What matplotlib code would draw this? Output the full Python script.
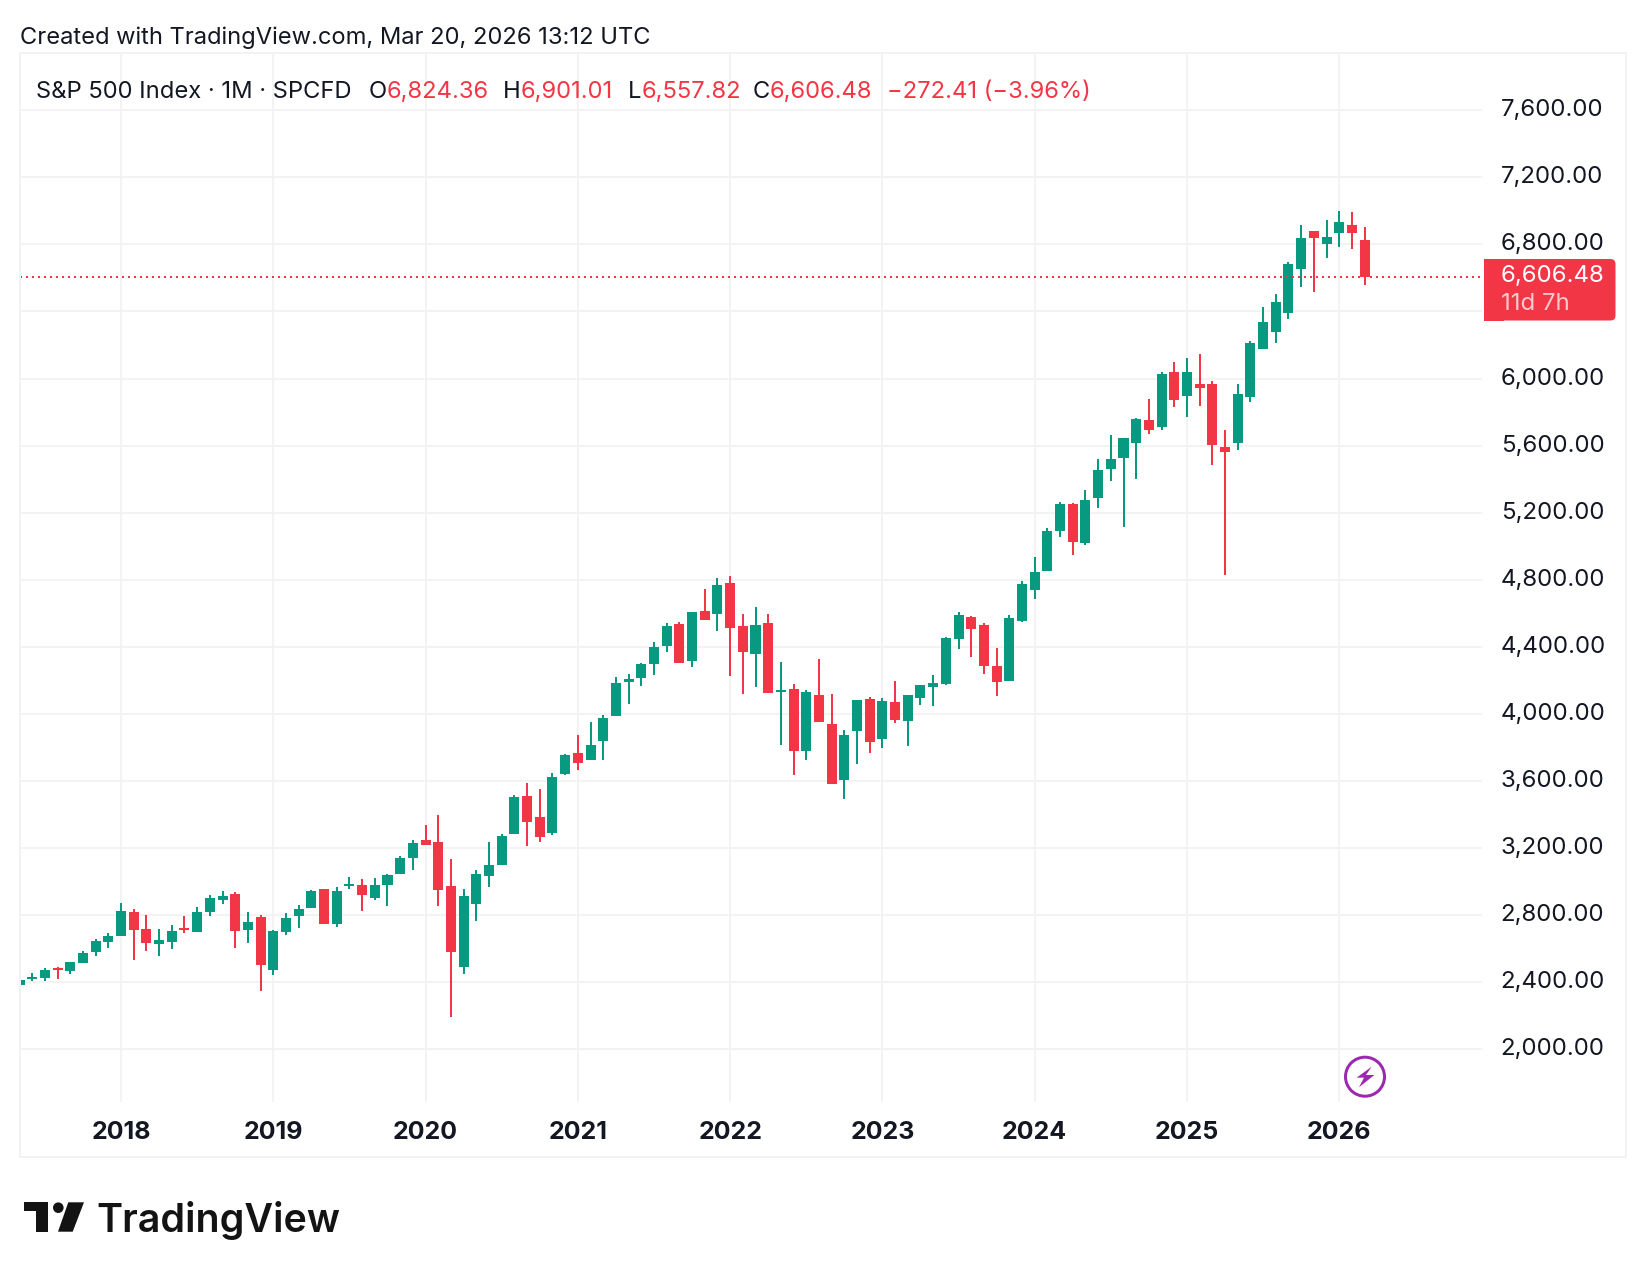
import numpy as np
import matplotlib
matplotlib.use("Agg")
import matplotlib.pyplot as plt
from matplotlib.patches import Rectangle, Polygon, Circle, FancyBboxPatch
from matplotlib.transforms import Affine2D, ScaledTranslation

# monthly bars, May 2017 .. Mar 2026
opens = [2382,2418,2424,2484,2466,2513,2579,2639,
 2675,2818,2716,2627,2639,2722,2698,2818,2890,2925,2710,2788,
 2472,2698,2794,2842,2955,2746,2973,2979,2901,2979,3045,3140,
 3248,3236,2973,2490,2866,3033,3099,3284,3510,3385,3288,3640,
 3765,3723,3837,3986,4189,4213,4296,4404,4535,4314,4613,4595,
 4780,4523,4356,4541,4129,4147,3777,4111,3938,3604,3896,4088,
 3849,4070,3956,4094,4159,4177,4446,4577,4529,4285,4195,4553,
 4738,4854,5092,5253,5021,5289,5462,5528,5617,5754,5712,6040,
 5897,5969,5969,5593,5617,5891,6177,6279,6392,6654,6881,6803,
 6869,6917,6824.36]
highs = [2415,2454,2484,2490,2519,2585,2657,2693,
 2872,2836,2800,2716,2740,2794,2848,2919,2943,2937,2818,2800,
 2710,2812,2860,2949,2955,2967,3027,3015,3021,3047,3152,3248,
 3337,3397,3134,2955,3069,3236,3284,3516,3588,3552,3648,3759,
 3873,3950,3992,4219,4237,4302,4428,4541,4547,4607,4744,4810,
 4822,4595,4637,4595,4308,4177,4141,4326,4117,3902,4082,4100,
 4094,4195,4111,4171,4231,4458,4607,4583,4541,4392,4589,4792,
 4935,5110,5265,5259,5337,5522,5665,5647,5766,5879,6040,6100,
 6124,6148,5987,5695,5969,6225,6428,6506,6696,6917,6881,6947,
 7001,6995,6901.01]
lows = [2380,2406,2406,2418,2448,2513,2555,2603,
 2675,2531,2585,2555,2597,2693,2698,2794,2866,2603,2633,2346,
 2442,2680,2722,2842,2746,2728,2955,2824,2890,2854,3045,3069,
 3218,2854,2191,2448,2764,2967,3099,3284,3212,3236,3278,3634,
 3664,3723,3723,3986,4058,4165,4231,4368,4302,4279,4559,4493,
 4225,4117,4159,4123,3813,3634,3723,3950,3580,3491,3699,3765,
 3795,3944,3807,4052,4046,4171,4386,4338,4237,4105,4195,4547,
 4684,4854,5056,4949,5009,5229,5390,5116,5402,5671,5695,5832,
 5772,5838,5486,4830,5575,5862,6177,6213,6356,6547,6517,6720,
 6785,6773,6557.82]
closes = [2412,2430,2472,2472,2519,2573,2645,2675,
 2824,2710,2633,2651,2704,2710,2818,2901,2913,2704,2758,2501,
 2704,2782,2836,2943,2746,2943,2985,2919,2979,3039,3140,3230,
 3218,2949,2579,2913,3045,3099,3272,3504,3355,3266,3624,3753,
 3705,3813,3974,4183,4207,4296,4398,4523,4302,4607,4559,4768,
 4511,4368,4529,4123,4141,3777,4129,3950,3580,3873,4082,3831,
 4076,3962,4111,4171,4183,4452,4589,4505,4285,4189,4571,4774,
 4846,5092,5253,5027,5277,5456,5522,5647,5760,5695,6028,5873,
 6040,5945,5605,5563,5909,6213,6338,6458,6684,6839,6839,6845,
 6935,6869,6606.48]
year_labels = ["2018","2019","2020","2021","2022","2023","2024","2025","2026"]
price_ticks = [2000,2400,2800,3200,3600,4000,4400,4800,5200,5600,6000,6400,6800,7200,7600]
hidden_tick = 6400  # covered by the last-price label in the reference
last_close = 6606.48

GREEN = "#089981"; RED = "#F23645"; GRID = "#F3F3F3"; FRAME = "#F2F2F2"; INK = "#131722"; PURPLE = "#9C27B0"
FONT = ["Inter", "DejaVu Sans"]
W, H = 1646, 1278
px_lw = 0.72

fig = plt.figure(figsize=(W/100, H/100), dpi=100, facecolor="white")
PX = Affine2D().scale(1/W, -1/H).translate(0, 1) + fig.transFigure

ax = fig.add_axes([20/W, 1-1102/H, (1482-20)/W, (1102-53)/H])
ax.set_xlim(0.04, 115.25)
ax.set_ylim(1684, 7942)
for s in ax.spines.values():
    s.set_visible(False)

x = np.arange(len(opens))
o, h, l, c = map(np.array, (opens, highs, lows, closes))
cols = np.where(c >= o, GREEN, RED)
ax.set_axisbelow(True)
ax.grid(True, color=GRID, lw=2*px_lw)
ax.vlines(x, l, h, colors=cols, lw=2*px_lw, zorder=3)
ax.bar(x, np.abs(c-o), bottom=np.minimum(o, c), width=0.79, color=cols, linewidth=0, zorder=3)
ax.axhline(last_close, color=RED, lw=2*px_lw, linestyle=(0, (1, 2)), zorder=4)

ax.yaxis.tick_right()
ax.set_yticks(price_ticks)
ax.set_yticklabels(["" if v == hidden_tick else f"{v:,.2f}" for v in price_ticks],
                   family=FONT, fontsize=17.3, color=INK, ha="left")
ax.tick_params(axis="y", length=0, pad=13.5)
shift = ScaledTranslation(0, 2.5/100, fig.dpi_scale_trans)
for lab in ax.get_yticklabels():
    lab.set_transform(lab.get_transform() + shift)
ax.set_xticks(8 + 12*np.arange(len(year_labels)))
ax.set_xticklabels(year_labels, family=FONT, fontsize=18, fontweight="bold", color=INK)
ax.tick_params(axis="x", length=0, pad=13.7)

fig.add_artist(Rectangle((20, 53), 1606, 1104, transform=PX, fill=False, ec=FRAME, lw=2*px_lw))

def put(xp, yp, s, color=INK, size=17.3, **kw):
    fig.text(xp, yp, s, transform=PX, color=color, fontsize=size, family=FONT, va="center", ha="left", **kw)

put(20, 38, "Created with TradingView.com, Mar 20, 2026 13:12 UTC", size=17.05)
put(36, 92, "S&P 500 Index · 1M · SPCFD", size=17.1)
for xp, s, col in [(369,"O",INK),(387,"6,824.36",RED),(503,"H",INK),(521,"6,901.01",RED),
                   (628,"L",INK),(642,"6,557.82",RED),(753,"C",INK),(770,"6,606.48",RED),
                   (887,"\u2212272.41 (\u22123.96%)",RED)]:
    put(xp, 92, s, color=col, size=17.1)

# last price label
fig.add_artist(FancyBboxPatch((1490, 259), 125.5, 61.5, boxstyle="round,pad=0,rounding_size=5",
                              transform=PX, fc=RED, ec="none"))
fig.add_artist(Rectangle((1484, 259), 20, 61.5, transform=PX, fc=RED, ec="none"))
put(1501, 276, "6,606.48", color="white")
put(1501, 304, "11d 7h", color="#FBC9CE")

# lightning marker
fig.add_artist(Circle((1365, 1076.7), 19.5, transform=PX, fill=False, ec=PURPLE, lw=3*px_lw, zorder=5))
bolt = [(275,110),(230,143),(252,143),(237,172),(283,135),(258,135)]
fig.add_artist(Polygon([(1280+a/3, 1030+b/3) for a, b in bolt], transform=PX, fc=PURPLE, ec="none", zorder=5))

# TradingView logo
LOGO = "#131313"
fig.add_artist(Polygon([(24,1202.3),(48.3,1202.3),(48.3,1231.7),(36,1231.7),(36,1211.3),(24,1211.3)],
                       transform=PX, fc=LOGO, ec="none"))
fig.add_artist(Circle((58.3, 1207.7), 5.3, transform=PX, fc=LOGO, ec="none"))
fig.add_artist(Polygon([(68.3,1202.3),(84,1202.3),(72.7,1231.7),(58,1231.7)], transform=PX, fc=LOGO, ec="none"))
fig.text(96.5, 1231.7, "TradingView", transform=PX, color=LOGO, fontsize=28.4, family=FONT,
         fontweight="semibold", va="baseline", ha="left")

fig.savefig("out.png", dpi=100)
